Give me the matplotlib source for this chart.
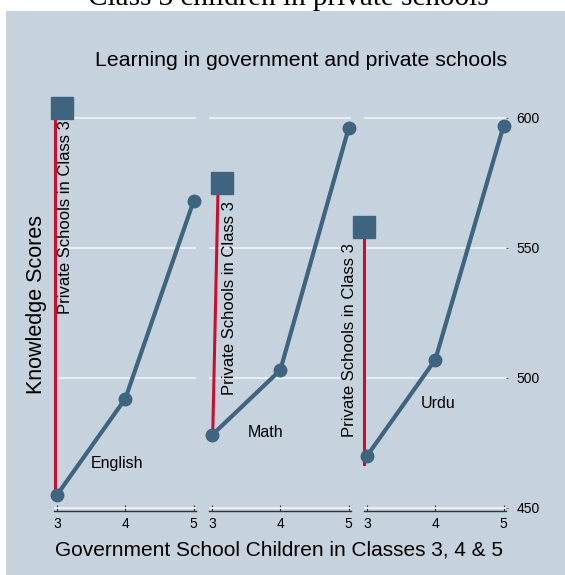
import matplotlib
matplotlib.use("Agg")
import matplotlib.pyplot as plt
from matplotlib.patches import Rectangle

# government school scores in classes 3, 4, 5
classes = [3, 4, 5]
subjects = ["English", "Math", "Urdu"]
gov_scores = [
    [455, 492, 568],
    [478, 503, 596],
    [470, 507, 597],
]
# private school class 3 scores
private_scores = [604, 575, 558]
private_x = [3.07, 3.15, 2.96]
red_top_x = [2.97, 3.09, 2.96]
red_bottom_x = [2.97, 3.01, 2.96]
red_bottom = [456, 478, 467]

# label anchors
subj_label_xy = [(3.88, 467), (3.78, 479), (4.04, 490)]
priv_label_xy = [(3.12, 599), (3.25, 568), (2.74, 552)]

yticks = [450, 500, 550, 600]
bg = "#C6D2DE"
navy = "#3E6480"
red = "#C8102E"

plt.rcParams["font.family"] = ["Liberation Sans", "DejaVu Sans"]

W, H = 565, 575
fig = plt.figure(figsize=(W / 100, H / 100), dpi=100)
fig.patch.set_facecolor("white")
fig.patches.append(Rectangle((6 / W, 0), 1, 1 - 11 / H, transform=fig.transFigure,
                             facecolor=bg, edgecolor="none", zorder=-10))

fig.text(288 / W, 1 - 5 / H, "Class 3 children in private schools",
         family="Liberation Serif", fontsize=21, ha="center", va="baseline")
fig.text(301 / W, 1 - 60 / H, "Learning in government and private schools",
         fontsize=15.3, ha="center", va="center")
fig.text(279 / W, 1 - 550 / H, "Government School Children in Classes 3, 4 & 5",
         fontsize=15, ha="center", va="center")
fig.text(37 / W, 1 - 305 / H, "Knowledge Scores", fontsize=15.5, rotation=90,
         ha="center", va="center")

lefts = [54.3, 209.3, 364.3]
axw = 142
bottom = 1 - 511 / H
height = (511 - 102.4) / H

for i, left in enumerate(lefts):
    ax = fig.add_axes([left / W, bottom, axw / W, height])
    ax.set_zorder(1)
    ax.set_facecolor("none")
    ax.set_xlim(2.96, 5.04)
    ax.set_ylim(448.8, 606)
    for s in ["top", "left", "right"]:
        ax.spines[s].set_visible(False)
    ax.spines["bottom"].set_color("#333333")
    ax.spines["bottom"].set_linewidth(1.0)
    ax.set_yticks(yticks)
    ax.yaxis.grid(True, color="#EEF2F4", linewidth=1.3)
    ax.set_axisbelow(True)
    ax.set_xticks(classes)
    ax.tick_params(axis="x", direction="in", length=4.5, width=0.8, color="#333333",
                   labelsize=10, pad=4)
    if i == 2:
        ax.yaxis.tick_right()
        ax.tick_params(axis="y", length=1.5, width=0.6, color="#555555",
                       labelsize=10, pad=6)
    else:
        ax.tick_params(axis="y", left=False, labelleft=False)

    ax.plot([red_top_x[i], red_bottom_x[i]], [private_scores[i], red_bottom[i]],
            color=red, lw=2.2, clip_on=False, zorder=3)
    ax.plot(classes, gov_scores[i], color=navy, lw=3, marker="o", ms=9,
            clip_on=False, zorder=4)
    ax.plot([private_x[i]], [private_scores[i]], marker="s", ms=16.5, color=navy,
            mec=navy, clip_on=False, zorder=5, linestyle="none")

    px, py = priv_label_xy[i]
    ax.text(px, py, "Private Schools in Class 3", rotation=90, fontsize=12,
            ha="center", va="top", zorder=6)
    sx, sy = subj_label_xy[i]
    ax.text(sx, sy, subjects[i], fontsize=11.5, ha="center", va="center", zorder=6)

fig.savefig("out.png", dpi=100, facecolor="white")
